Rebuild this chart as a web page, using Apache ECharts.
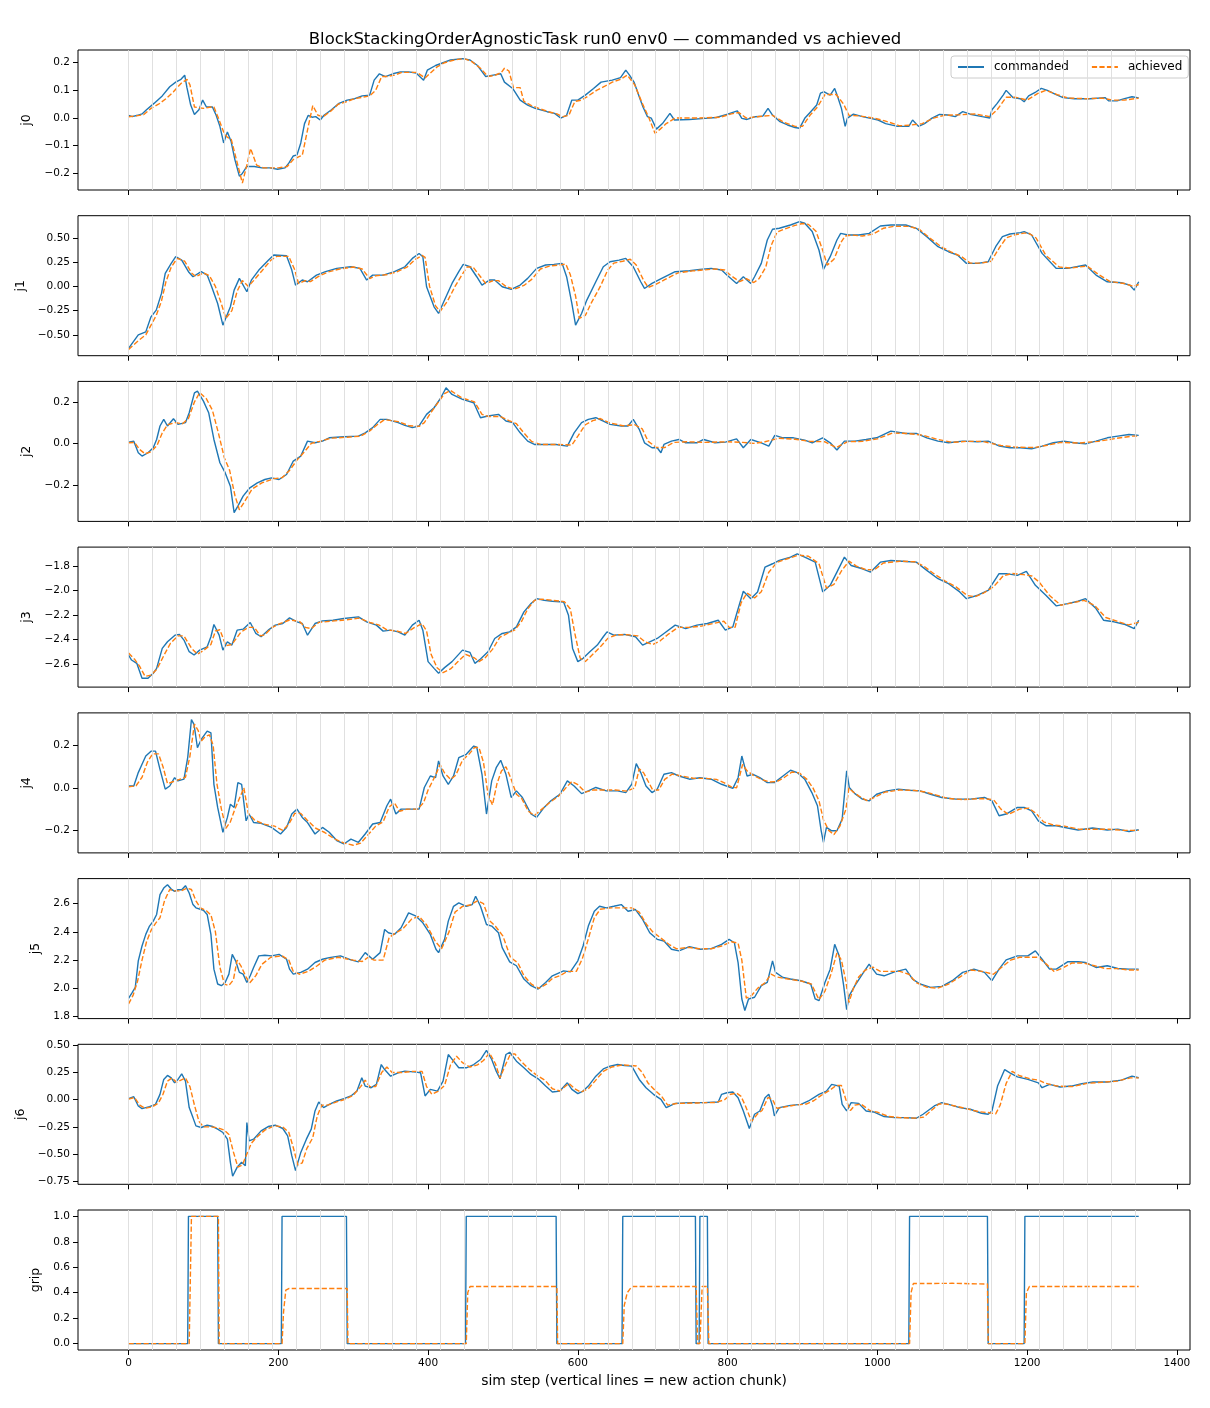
<!DOCTYPE html>
<html>
<head>
<meta charset="utf-8">
<script src="https://cdn.jsdelivr.net/npm/echarts@6/dist/echarts.min.js"></script>
<style>
html,body{margin:0;padding:0;background:#fff;}
#chart{width:1210px;height:1408px;}
</style>
</head>
<body>
<div id="chart"></div>
<script>
// ---------------- DATA ----------------
const titleText = 'BlockStackingOrderAgnosticTask run0 env0 \u2014 commanded vs achieved';
const xLabelText = 'sim step (vertical lines = new action chunk)';
const panelNames = ['j0','j1','j2','j3','j4','j5','j6','grip'];
const xTicks = [0,200,400,600,800,1000,1200,1400];
const chunkStarts = [0,32,64,96,128,160,192,224,256,288,320,352,384,416,448,480,512,544,576,608,640,672,704,736,768,800,832,864,896,928,960,992,1024,1056,1088,1120,1152,1184,1216,1248,1280,1312,1344];

const j0Ticks = [-0.2,-0.1,0,0.1,0.2];
const j1Ticks = [-0.5,-0.25,0,0.25,0.5];
const j2Ticks = [-0.2,0,0.2];
const j3Ticks = [-2.6,-2.4,-2.2,-2.0,-1.8];
const j4Ticks = [-0.2,0,0.2];
const j5Ticks = [1.8,2.0,2.2,2.4,2.6];
const j6Ticks = [-0.75,-0.5,-0.25,0,0.25,0.5];
const gripTicks = [0,0.2,0.4,0.6,0.8,1.0];

const j0Commanded = [[0,0.01],[5,0.005],[12,0.01],[18,0.015],[24,0.03],[34,0.053],[45,0.08],[55,0.113],[63,0.13],[70,0.14],[75,0.155],[78,0.11],[83,0.047],[88,0.013],[94,0.03],[99,0.065],[104,0.04],[112,0.04],[117,0.01],[122,-0.03],[127,-0.09],[132,-0.05],[137,-0.085],[142,-0.15],[148,-0.21],[152,-0.2],[158,-0.175],[168,-0.175],[178,-0.18],[189,-0.18],[199,-0.185],[209,-0.18],[214,-0.163],[220,-0.137],[225,-0.133],[230,-0.09],[235,-0.02],[240,0.01],[245,0.003],[250,0.005],[256,-0.007],[261,0.01],[271,0.03],[281,0.053],[292,0.065],[302,0.07],[312,0.08],[322,0.083],[328,0.137],[335,0.16],[343,0.15],[353,0.16],[363,0.167],[374,0.167],[384,0.163],[394,0.137],[399,0.173],[410,0.19],[420,0.2],[430,0.21],[446,0.215],[456,0.21],[466,0.19],[477,0.15],[487,0.155],[497,0.16],[502,0.13],[513,0.107],[523,0.065],[533,0.047],[543,0.035],[559,0.023],[569,0.017],[577,0.0],[585,0.01],[592,0.065],[600,0.065],[610,0.083],[621,0.107],[631,0.13],[646,0.137],[657,0.146],[664,0.173],[669,0.155],[675,0.13],[682,0.077],[687,0.04],[693,0.005],[698,0.0],[705,-0.04],[713,-0.02],[723,0.017],[729,-0.007],[749,-0.005],[770,-0.001],[785,0.002],[800,0.014],[813,0.026],[819,-0.001],[826,-0.005],[837,0.005],[847,0.007],[854,0.035],[860,0.011],[870,-0.013],[880,-0.025],[890,-0.034],[896,-0.037],[903,-0.001],[911,0.023],[919,0.047],[924,0.09],[929,0.095],[937,0.083],[943,0.107],[947,0.077],[952,0.035],[957,-0.03],[960,0.0],[968,0.014],[980,0.005],[991,-0.001],[1001,-0.007],[1011,-0.02],[1027,-0.03],[1042,-0.03],[1047,-0.007],[1055,-0.03],[1063,-0.02],[1073,0.0],[1083,0.013],[1094,0.011],[1104,0.005],[1114,0.023],[1124,0.014],[1140,0.005],[1150,0.0],[1153,0.03],[1160,0.053],[1168,0.083],[1172,0.1],[1181,0.074],[1191,0.07],[1196,0.059],[1202,0.08],[1212,0.095],[1219,0.107],[1227,0.1],[1238,0.086],[1248,0.074],[1263,0.07],[1284,0.07],[1304,0.074],[1309,0.062],[1320,0.062],[1330,0.07],[1340,0.077],[1349,0.073]];
const j0Achieved = [[0,0.005],[10,0.008],[20,0.012],[30,0.035],[40,0.05],[50,0.07],[60,0.095],[70,0.125],[78,0.14],[82,0.12],[88,0.04],[100,0.035],[110,0.04],[114,0.04],[120,0.0],[127,-0.05],[132,-0.07],[137,-0.075],[144,-0.15],[152,-0.235],[158,-0.17],[163,-0.11],[171,-0.17],[180,-0.18],[200,-0.18],[212,-0.175],[220,-0.15],[227,-0.14],[232,-0.135],[240,-0.03],[246,0.045],[253,0.01],[260,0.005],[270,0.025],[280,0.05],[292,0.06],[302,0.07],[312,0.075],[322,0.08],[330,0.1],[338,0.15],[345,0.15],[355,0.155],[365,0.165],[385,0.165],[396,0.145],[402,0.16],[412,0.185],[422,0.2],[435,0.21],[448,0.215],[458,0.205],[470,0.18],[480,0.15],[490,0.155],[498,0.165],[502,0.18],[508,0.17],[514,0.11],[523,0.11],[528,0.06],[538,0.045],[548,0.035],[562,0.022],[572,0.015],[580,0.005],[588,0.01],[596,0.06],[605,0.065],[614,0.08],[625,0.1],[636,0.115],[646,0.13],[657,0.14],[666,0.155],[676,0.12],[685,0.06],[695,0.0],[703,-0.055],[710,-0.04],[718,-0.02],[730,0.0],[760,0.0],[790,0.003],[805,0.015],[815,0.02],[825,0.0],[840,0.005],[860,0.01],[875,-0.015],[890,-0.03],[900,-0.03],[910,0.01],[920,0.04],[930,0.085],[945,0.085],[955,0.05],[962,0.01],[975,0.008],[995,0.0],[1010,-0.01],[1030,-0.028],[1045,-0.025],[1060,-0.02],[1075,0.0],[1090,0.01],[1110,0.012],[1130,0.015],[1150,0.005],[1160,0.03],[1172,0.075],[1185,0.075],[1200,0.065],[1215,0.09],[1225,0.1],[1240,0.085],[1255,0.072],[1280,0.07],[1300,0.072],[1315,0.065],[1330,0.065],[1349,0.072]];

const j1Commanded = [[0,-0.64],[13,-0.5],[23,-0.469],[30,-0.314],[37,-0.245],[44,-0.072],[49,0.134],[57,0.238],[63,0.307],[71,0.272],[80,0.152],[86,0.1],[97,0.152],[105,0.117],[111,-0.003],[119,-0.176],[126,-0.4],[136,-0.21],[141,-0.038],[148,0.083],[158,-0.055],[164,0.065],[174,0.169],[187,0.272],[194,0.324],[211,0.317],[218,0.169],[223,0.014],[232,0.066],[239,0.048],[251,0.117],[263,0.152],[278,0.186],[297,0.203],[309,0.186],[318,0.066],[326,0.117],[340,0.117],[355,0.152],[369,0.203],[379,0.289],[388,0.34],[393,0.307],[398,-0.003],[408,-0.21],[414,-0.279],[422,-0.141],[432,0.031],[441,0.152],[447,0.228],[456,0.203],[465,0.1],[472,0.014],[482,0.066],[489,0.066],[499,-0.003],[511,-0.031],[523,0.014],[533,0.083],[545,0.186],[557,0.221],[568,0.228],[579,0.238],[585,0.1],[592,-0.176],[597,-0.4],[605,-0.279],[612,-0.141],[624,0.048],[634,0.203],[643,0.255],[655,0.272],[664,0.289],[674,0.203],[684,0.048],[689,-0.021],[699,0.031],[712,0.083],[730,0.152],[749,0.162],[763,0.176],[778,0.186],[792,0.169],[799,0.117],[812,0.031],[821,0.1],[831,0.031],[836,0.1],[845,0.238],[853,0.479],[860,0.59],[869,0.6],[884,0.634],[896,0.669],[903,0.652],[913,0.566],[922,0.376],[928,0.176],[937,0.307],[946,0.479],[951,0.548],[961,0.531],[975,0.531],[989,0.548],[1004,0.624],[1018,0.634],[1038,0.634],[1052,0.6],[1066,0.514],[1081,0.41],[1095,0.358],[1107,0.324],[1119,0.238],[1134,0.238],[1148,0.255],[1158,0.41],[1167,0.514],[1177,0.541],[1191,0.555],[1196,0.566],[1206,0.531],[1220,0.341],[1239,0.186],[1254,0.186],[1278,0.221],[1292,0.117],[1307,0.048],[1326,0.038],[1337,0.014],[1343,-0.038],[1349,0.048]];
const j1Achieved = [[0,-0.65],[13,-0.56],[23,-0.5],[30,-0.4],[37,-0.3],[44,-0.15],[50,0.05],[57,0.2],[65,0.29],[75,0.26],[84,0.14],[90,0.1],[100,0.14],[108,0.11],[116,0.0],[124,-0.18],[130,-0.33],[138,-0.25],[145,-0.05],[152,0.06],[160,0.0],[167,0.06],[178,0.16],[190,0.27],[198,0.31],[214,0.31],[222,0.17],[227,0.03],[236,0.06],[243,0.05],[255,0.11],[267,0.15],[282,0.18],[300,0.2],[312,0.18],[322,0.08],[330,0.11],[344,0.12],[358,0.15],[372,0.2],[383,0.28],[392,0.32],[396,0.3],[402,0.0],[410,-0.2],[416,-0.26],[426,-0.15],[436,0.0],[446,0.13],[452,0.2],[460,0.2],[470,0.1],[477,0.03],[487,0.06],[494,0.06],[504,0.0],[515,-0.03],[528,0.01],[538,0.07],[550,0.18],[562,0.21],[574,0.22],[584,0.23],[590,0.12],[597,-0.1],[602,-0.33],[610,-0.3],[618,-0.17],[630,0.0],[640,0.17],[648,0.24],[660,0.26],[670,0.28],[678,0.22],[688,0.06],[694,-0.01],[704,0.02],[716,0.07],[734,0.14],[753,0.16],[768,0.17],[782,0.18],[796,0.17],[803,0.12],[816,0.05],[825,0.08],[835,0.04],[842,0.08],[851,0.2],[858,0.42],[866,0.56],[875,0.59],[890,0.63],[900,0.65],[908,0.64],[918,0.57],[928,0.35],[933,0.22],[942,0.28],[951,0.45],[957,0.52],[966,0.53],[980,0.52],[994,0.54],[1008,0.6],[1022,0.62],[1042,0.62],[1056,0.59],[1070,0.5],[1085,0.41],[1100,0.35],[1112,0.31],[1124,0.24],[1138,0.24],[1152,0.26],[1163,0.4],[1172,0.5],[1182,0.53],[1196,0.55],[1202,0.55],[1212,0.5],[1225,0.32],[1243,0.2],[1258,0.19],[1280,0.21],[1296,0.12],[1311,0.05],[1330,0.03],[1342,0.0],[1349,0.02]];

const j2Commanded = [[0,0.006],[7,0.011],[13,-0.045],[18,-0.061],[26,-0.045],[33,-0.021],[37.5,0.019],[42,0.084],[47,0.116],[52,0.084],[60,0.119],[66,0.092],[76,0.1],[81,0.148],[88,0.244],[92,0.252],[100,0.204],[107,0.148],[114,0.019],[122,-0.093],[129,-0.141],[136,-0.206],[141,-0.334],[146,-0.302],[153,-0.254],[162,-0.214],[172,-0.19],[182,-0.174],[191,-0.166],[201,-0.174],[211,-0.15],[220,-0.085],[230,-0.061],[239,0.011],[249,0.003],[259,0.011],[268,0.027],[288,0.032],[307,0.035],[316,0.051],[326,0.076],[336,0.116],[345,0.116],[360,0.1],[369,0.087],[379,0.076],[388,0.084],[398,0.14],[408,0.172],[417,0.22],[424,0.268],[432,0.236],[446,0.212],[461,0.196],[470,0.124],[480,0.132],[494,0.14],[504,0.108],[513,0.1],[523,0.051],[533,0.011],[542,-0.005],[557,-0.005],[571,-0.005],[586,-0.013],[595,0.051],[605,0.1],[614,0.116],[624,0.124],[634,0.108],[643,0.092],[658,0.084],[667,0.084],[674,0.116],[682,0.068],[689,0.003],[699,-0.021],[706,-0.021],[711,-0.045],[715,-0.005],[725,0.011],[735,0.019],[744,0.003],[759,0.003],[768,0.019],[783,0.003],[797,0.006],[812,0.022],[821,-0.021],[831,0.019],[845,0.003],[855,-0.013],[863,0.039],[874,0.027],[888,0.027],[903,0.016],[913,0.003],[927,0.027],[937,0.003],[946,-0.032],[956,0.011],[970,0.011],[985,0.019],[999,0.027],[1018,0.059],[1038,0.048],[1052,0.048],[1066,0.027],[1081,0.011],[1095,0.003],[1114,0.011],[1134,0.008],[1148,0.011],[1163,-0.013],[1177,-0.021],[1191,-0.021],[1206,-0.026],[1220,-0.013],[1235,0.003],[1249,0.011],[1263,0.003],[1278,-0.002],[1292,0.011],[1307,0.027],[1321,0.035],[1336,0.043],[1349,0.039]];
const j2Achieved = [[0,0.003],[8,0.005],[15,-0.03],[22,-0.05],[30,-0.04],[38,-0.01],[45,0.05],[52,0.09],[62,0.1],[72,0.095],[80,0.12],[88,0.2],[95,0.245],[104,0.215],[112,0.16],[120,0.05],[128,-0.07],[135,-0.13],[142,-0.25],[148,-0.32],[155,-0.28],[165,-0.22],[178,-0.19],[194,-0.17],[205,-0.165],[215,-0.13],[225,-0.08],[235,-0.04],[244,0.0],[255,0.01],[270,0.025],[292,0.03],[310,0.035],[322,0.06],[332,0.09],[342,0.115],[360,0.105],[375,0.085],[388,0.082],[395,0.1],[404,0.15],[414,0.2],[422,0.24],[430,0.255],[445,0.22],[462,0.2],[472,0.14],[480,0.13],[496,0.13],[508,0.11],[518,0.095],[528,0.05],[538,0.01],[550,-0.005],[575,-0.005],[592,-0.008],[600,0.035],[610,0.09],[620,0.11],[630,0.12],[642,0.1],[660,0.085],[676,0.09],[686,0.07],[694,0.01],[705,-0.02],[716,-0.02],[728,0.005],[745,0.008],[770,0.005],[800,0.008],[820,0.005],[835,0.0],[850,0.008],[868,0.025],[890,0.02],[910,0.01],[930,0.008],[945,-0.02],[960,0.008],[980,0.01],[1000,0.022],[1020,0.05],[1040,0.048],[1060,0.04],[1080,0.02],[1100,0.005],[1120,0.01],[1140,0.01],[1165,-0.01],[1185,-0.018],[1210,-0.02],[1225,-0.01],[1245,0.005],[1270,0.002],[1295,0.01],[1320,0.025],[1340,0.035],[1349,0.035]];

const j3Commanded = [[0,-2.526],[4,-2.567],[11,-2.594],[18,-2.716],[26,-2.716],[33,-2.675],[37.5,-2.635],[45,-2.472],[52,-2.418],[62,-2.364],[68,-2.358],[74,-2.404],[81,-2.499],[87.5,-2.526],[95,-2.486],[105,-2.459],[110,-2.377],[114,-2.277],[121,-2.364],[126,-2.486],[132,-2.418],[138,-2.445],[145,-2.323],[153,-2.315],[162.5,-2.261],[170,-2.35],[177,-2.377],[186.5,-2.323],[196,-2.282],[206,-2.269],[215,-2.223],[225,-2.255],[232,-2.269],[239,-2.364],[249,-2.269],[259,-2.247],[273,-2.242],[287.5,-2.228],[307,-2.215],[318,-2.255],[331,-2.282],[340,-2.331],[350,-2.323],[360,-2.337],[369,-2.364],[379,-2.282],[388,-2.242],[393,-2.323],[400,-2.58],[408,-2.635],[414,-2.675],[422,-2.629],[432,-2.58],[446,-2.486],[456,-2.505],[462.5,-2.594],[470,-2.559],[480,-2.499],[489,-2.391],[499,-2.35],[509,-2.337],[518,-2.296],[528,-2.174],[537.5,-2.106],[545,-2.066],[555,-2.079],[566,-2.087],[581,-2.093],[587.5,-2.201],[593,-2.472],[600,-2.58],[607,-2.553],[616,-2.499],[626,-2.445],[634,-2.377],[639,-2.337],[648,-2.364],[662.5,-2.358],[677,-2.377],[686.5,-2.445],[696,-2.418],[706,-2.391],[715,-2.35],[730,-2.282],[744,-2.31],[759,-2.282],[773,-2.269],[787.5,-2.242],[797,-2.323],[807,-2.296],[811.5,-2.201],[821,-2.006],[831,-2.066],[840,-2.011],[850,-1.808],[860,-1.781],[869,-1.754],[884,-1.727],[893,-1.7],[903,-1.727],[917,-1.768],[927,-2.011],[937,-1.957],[946,-1.849],[956,-1.727],[965,-1.795],[980,-1.822],[991,-1.849],[1004,-1.768],[1018,-1.754],[1038,-1.762],[1052,-1.768],[1066,-1.835],[1081,-1.903],[1095,-1.944],[1110,-2.011],[1119,-2.066],[1134,-2.038],[1148,-1.998],[1162.5,-1.862],[1172,-1.862],[1187,-1.876],[1199,-1.843],[1211,-1.957],[1225,-2.038],[1239,-2.125],[1254,-2.106],[1268,-2.087],[1278,-2.066],[1292,-2.147],[1302,-2.242],[1316,-2.255],[1331,-2.277],[1343,-2.31],[1349,-2.242]];
const j3Achieved = [[0,-2.51],[8,-2.56],[15,-2.62],[22,-2.7],[30,-2.69],[38,-2.64],[48,-2.52],[56,-2.43],[66,-2.37],[74,-2.37],[84,-2.47],[92,-2.52],[100,-2.49],[110,-2.44],[116,-2.33],[122,-2.32],[130,-2.45],[138,-2.44],[150,-2.34],[160,-2.3],[168,-2.3],[176,-2.37],[182,-2.36],[192,-2.3],[202,-2.27],[215,-2.24],[228,-2.25],[236,-2.3],[244,-2.31],[254,-2.26],[270,-2.25],[290,-2.24],[308,-2.225],[322,-2.26],[334,-2.28],[345,-2.32],[358,-2.33],[370,-2.35],[382,-2.3],[392,-2.27],[398,-2.33],[404,-2.52],[412,-2.63],[420,-2.67],[430,-2.64],[440,-2.58],[450,-2.52],[462,-2.55],[468,-2.58],[476,-2.55],[486,-2.48],[496,-2.38],[506,-2.35],[516,-2.32],[525,-2.25],[533,-2.15],[542,-2.08],[552,-2.07],[566,-2.08],[582,-2.09],[590,-2.15],[596,-2.35],[603,-2.55],[610,-2.58],[620,-2.52],[630,-2.46],[640,-2.39],[652,-2.36],[665,-2.36],[680,-2.37],[690,-2.42],[700,-2.44],[710,-2.41],[720,-2.36],[734,-2.3],[750,-2.3],[765,-2.29],[780,-2.27],[795,-2.25],[802,-2.3],[810,-2.3],[818,-2.1],[826,-2.02],[836,-2.06],[845,-2.01],[855,-1.85],[866,-1.77],[880,-1.74],[895,-1.71],[908,-1.72],[922,-1.78],[932,-1.98],[942,-1.95],[952,-1.84],[962,-1.76],[972,-1.8],[985,-1.83],[996,-1.83],[1008,-1.775],[1030,-1.76],[1050,-1.765],[1062,-1.8],[1075,-1.86],[1090,-1.92],[1105,-1.97],[1120,-2.04],[1130,-2.05],[1142,-2.02],[1155,-1.97],[1168,-1.88],[1180,-1.86],[1195,-1.87],[1206,-1.88],[1216,-1.93],[1230,-2.04],[1245,-2.12],[1260,-2.1],[1276,-2.08],[1290,-2.12],[1305,-2.22],[1320,-2.25],[1335,-2.28],[1349,-2.26]];

const j4Commanded = [[0,0.009],[7,0.009],[13,0.072],[18,0.111],[23,0.15],[30,0.173],[36,0.173],[42,0.087],[49,-0.006],[55,0.009],[61.5,0.048],[66,0.033],[74,0.041],[79,0.142],[84,0.322],[87.5,0.298],[92,0.189],[97,0.228],[105,0.267],[110,0.259],[114,0.017],[119,-0.092],[126,-0.209],[132,-0.139],[136,-0.077],[141,-0.092],[146,0.025],[151,0.017],[157,-0.155],[161,-0.123],[167,-0.163],[177,-0.167],[191,-0.186],[203,-0.217],[211,-0.186],[218,-0.123],[225,-0.1],[232,-0.139],[239,-0.163],[249,-0.217],[259,-0.186],[268,-0.209],[278,-0.248],[287.5,-0.264],[297,-0.241],[307,-0.256],[316,-0.217],[326,-0.17],[336,-0.163],[345,-0.084],[350,-0.053],[357,-0.123],[364,-0.1],[379,-0.1],[388,-0.1],[395,0.002],[403,0.056],[410,0.048],[414,0.127],[420,0.056],[427,0.017],[434,0.056],[441,0.142],[451,0.158],[461,0.197],[465,0.192],[472,0.064],[478,-0.123],[485,0.033],[491,0.095],[497,0.13],[504,0.064],[511,-0.045],[518,-0.014],[526,-0.045],[537.5,-0.123],[545,-0.139],[555,-0.092],[564,-0.061],[576,-0.03],[586,0.033],[595,0.009],[605,-0.027],[614,-0.014],[624,0.002],[638,-0.014],[653,-0.014],[664,-0.022],[672,0.017],[678,0.114],[684,0.072],[691,0.009],[699,-0.022],[706,-0.006],[715,0.064],[725,0.072],[735,0.056],[749,0.041],[763,0.048],[778,0.041],[792,0.017],[807,-0.002],[814,0.048],[819,0.15],[826,0.056],[834,0.064],[843,0.048],[853,0.025],[862.5,0.025],[874,0.056],[884,0.083],[893,0.072],[903,0.041],[912.5,-0.022],[920,-0.084],[925,-0.202],[928,-0.256],[932,-0.186],[939,-0.202],[946,-0.202],[953,-0.147],[959,0.08],[962.5,0.002],[970,-0.027],[980,-0.053],[989,-0.061],[999,-0.03],[1013,-0.014],[1028,-0.006],[1042,-0.011],[1057,-0.014],[1071,-0.03],[1086,-0.045],[1105,-0.053],[1124,-0.053],[1143,-0.045],[1153,-0.061],[1162.5,-0.131],[1172,-0.123],[1187,-0.092],[1196,-0.092],[1206,-0.108],[1215,-0.155],[1225,-0.178],[1239,-0.178],[1254,-0.189],[1268,-0.198],[1287.5,-0.189],[1307,-0.198],[1321,-0.194],[1336,-0.205],[1349,-0.197]];
const j4Achieved = [[0,0.005],[10,0.01],[18,0.05],[25,0.12],[32,0.16],[40,0.16],[46,0.1],[52,0.02],[60,0.03],[68,0.04],[76,0.05],[82,0.15],[88,0.3],[93,0.27],[97,0.22],[102,0.24],[108,0.25],[113,0.2],[118,0.02],[124,-0.1],[130,-0.19],[136,-0.16],[142,-0.1],[148,-0.05],[154,0.0],[160,-0.12],[168,-0.15],[180,-0.17],[195,-0.18],[206,-0.2],[214,-0.17],[222,-0.12],[230,-0.12],[238,-0.15],[250,-0.19],[262,-0.21],[275,-0.24],[288,-0.26],[300,-0.27],[310,-0.26],[320,-0.22],[330,-0.18],[340,-0.16],[348,-0.09],[355,-0.07],[362,-0.11],[372,-0.1],[386,-0.1],[394,-0.07],[400,-0.01],[410,0.06],[416,0.11],[422,0.07],[430,0.04],[437,0.06],[446,0.13],[455,0.16],[462,0.19],[468,0.19],[474,0.12],[480,-0.03],[486,-0.08],[492,0.02],[498,0.08],[504,0.1],[510,0.05],[518,-0.03],[525,-0.05],[534,-0.11],[542,-0.13],[552,-0.1],[562,-0.07],[574,-0.04],[584,0.0],[592,0.03],[600,0.015],[610,-0.02],[620,-0.01],[630,-0.01],[650,-0.01],[666,-0.015],[676,0.0],[682,0.09],[688,0.07],[694,0.03],[700,-0.01],[708,-0.01],[716,0.04],[726,0.065],[740,0.055],[755,0.045],[770,0.045],[785,0.04],[795,0.025],[805,0.005],[812,0.0],[820,0.11],[826,0.08],[834,0.06],[845,0.04],[856,0.028],[866,0.03],[876,0.05],[886,0.075],[896,0.07],[906,0.04],[914,0.0],[922,-0.06],[928,-0.15],[935,-0.2],[942,-0.22],[950,-0.18],[958,-0.1],[962,0.0],[968,-0.02],[976,-0.04],[986,-0.06],[996,-0.045],[1010,-0.02],[1030,-0.01],[1050,-0.012],[1065,-0.02],[1080,-0.035],[1095,-0.05],[1115,-0.055],[1140,-0.05],[1155,-0.055],[1165,-0.1],[1175,-0.125],[1190,-0.1],[1202,-0.095],[1212,-0.12],[1222,-0.16],[1235,-0.175],[1250,-0.18],[1270,-0.195],[1290,-0.195],[1310,-0.195],[1330,-0.2],[1349,-0.2]];

const j5Commanded = [[0,1.93],[5,1.972],[9,2.007],[13,2.195],[18,2.3],[23,2.382],[28,2.441],[33,2.476],[37.5,2.523],[42,2.663],[47,2.71],[52,2.734],[57,2.703],[61.5,2.687],[66,2.698],[71,2.698],[76,2.727],[81,2.675],[86,2.593],[90,2.57],[100,2.553],[105,2.523],[110,2.382],[114,2.136],[119,2.031],[124,2.019],[129,2.042],[134,2.101],[138.5,2.241],[143,2.195],[148,2.113],[153,2.101],[158,2.042],[162.5,2.089],[167,2.148],[174,2.23],[182,2.234],[191,2.23],[201,2.241],[211,2.206],[215,2.136],[220,2.101],[230,2.113],[239,2.136],[249,2.183],[259,2.206],[268,2.218],[283,2.23],[297,2.202],[307,2.188],[316,2.253],[326,2.206],[336,2.253],[342,2.417],[347,2.394],[355,2.382],[364,2.429],[374,2.534],[384,2.511],[393,2.464],[403,2.382],[410.5,2.277],[414,2.253],[422,2.347],[427,2.476],[434,2.581],[441,2.605],[451,2.581],[459,2.593],[463.5,2.652],[470,2.581],[478,2.452],[485,2.441],[494,2.394],[499,2.288],[509,2.188],[518,2.16],[528,2.066],[537.5,2.019],[547,1.995],[557,2.042],[566,2.089],[581,2.124],[590,2.117],[600,2.195],[607,2.3],[614,2.441],[622,2.546],[629,2.581],[638,2.57],[648,2.581],[658,2.593],[667,2.546],[677,2.558],[686.5,2.488],[696,2.394],[706,2.347],[715,2.335],[725,2.277],[735,2.265],[749,2.295],[763,2.277],[778,2.281],[792,2.312],[802,2.347],[809,2.323],[814,2.183],[819,1.925],[823,1.843],[828,1.925],[836,1.937],[845,2.019],[853,2.042],[860,2.195],[864,2.113],[874,2.077],[884,2.066],[898,2.054],[911,2.031],[917,1.925],[922,1.913],[930,2.042],[937,2.136],[943,2.312],[949,2.23],[955,2.019],[959,1.85],[962.5,1.949],[970,2.019],[980,2.101],[989,2.171],[999,2.101],[1009,2.089],[1023,2.117],[1038,2.136],[1047,2.066],[1057,2.031],[1071,2.007],[1086,2.014],[1100,2.054],[1114,2.113],[1129,2.136],[1143,2.113],[1153,2.054],[1162.5,2.136],[1172,2.202],[1187,2.23],[1201,2.23],[1211,2.265],[1220,2.206],[1230,2.136],[1239,2.136],[1254,2.188],[1268,2.188],[1278,2.183],[1292,2.148],[1307,2.16],[1321,2.141],[1336,2.136],[1349,2.136]];
const j5Achieved = [[0,1.89],[6,1.95],[12,2.05],[18,2.2],[24,2.33],[30,2.41],[36,2.46],[42,2.5],[48,2.62],[55,2.7],[62,2.69],[70,2.69],[78,2.71],[84,2.7],[90,2.62],[96,2.57],[104,2.55],[110,2.52],[116,2.4],[122,2.15],[128,2.03],[134,2.02],[140,2.06],[145,2.2],[150,2.16],[157,2.08],[162,2.04],[170,2.09],[178,2.17],[190,2.22],[205,2.23],[214,2.2],[220,2.12],[228,2.1],[240,2.12],[252,2.16],[262,2.2],[280,2.22],[300,2.2],[312,2.19],[320,2.22],[328,2.2],[340,2.2],[348,2.36],[356,2.39],[366,2.42],[378,2.49],[388,2.51],[398,2.45],[410,2.33],[418,2.28],[428,2.4],[436,2.54],[446,2.58],[456,2.59],[466,2.62],[474,2.6],[482,2.48],[490,2.44],[500,2.37],[510,2.22],[520,2.18],[528,2.09],[538,2.03],[548,2.0],[558,2.03],[566,2.07],[576,2.09],[586,2.12],[598,2.12],[606,2.21],[614,2.35],[622,2.5],[630,2.56],[645,2.57],[660,2.57],[672,2.57],[682,2.54],[692,2.45],[700,2.4],[710,2.36],[722,2.31],[732,2.28],[748,2.29],[762,2.28],[778,2.28],[792,2.3],[805,2.33],[814,2.32],[819,2.2],[825,1.93],[832,1.95],[840,2.0],[850,2.04],[858,2.1],[866,2.08],[876,2.07],[888,2.06],[900,2.05],[912,2.03],[922,1.92],[930,1.98],[938,2.1],[946,2.25],[952,2.2],[958,2.05],[962,1.9],[968,2.0],[975,2.08],[984,2.13],[994,2.15],[1004,2.12],[1016,2.12],[1030,2.12],[1042,2.1],[1052,2.04],[1065,2.01],[1080,2.0],[1095,2.03],[1110,2.08],[1125,2.13],[1140,2.12],[1155,2.1],[1166,2.15],[1178,2.2],[1190,2.22],[1205,2.22],[1215,2.22],[1226,2.17],[1236,2.12],[1246,2.14],[1260,2.18],[1275,2.18],[1290,2.16],[1305,2.14],[1320,2.14],[1335,2.13],[1349,2.13]];

const j6Commanded = [[0,0.009],[7,0.027],[13,-0.058],[18,-0.082],[28,-0.064],[36,-0.043],[42,0.049],[47,0.186],[52,0.223],[57,0.201],[61.5,0.155],[66,0.186],[71,0.238],[76,0.171],[81,-0.073],[86,-0.165],[90,-0.241],[97,-0.256],[105,-0.235],[112.5,-0.247],[119,-0.271],[126,-0.302],[132,-0.363],[136,-0.576],[139,-0.704],[145,-0.622],[151,-0.576],[156,-0.607],[158,-0.21],[161,-0.378],[167,-0.363],[177,-0.287],[186.5,-0.247],[196,-0.235],[206,-0.265],[212.5,-0.332],[218,-0.515],[223,-0.652],[230,-0.485],[237.5,-0.363],[244,-0.271],[249,-0.104],[254,-0.021],[260.5,-0.073],[268,-0.043],[278,-0.012],[287.5,0.009],[297,0.034],[305,0.079],[311.5,0.201],[316,0.125],[324,0.11],[331,0.14],[337.5,0.323],[342,0.277],[350,0.216],[360,0.247],[369,0.262],[384,0.253],[390,0.247],[396,0.034],[403,0.095],[412.5,0.079],[420,0.171],[427,0.415],[434,0.354],[441,0.293],[451,0.293],[461,0.323],[470,0.369],[478,0.454],[485,0.369],[491,0.262],[496,0.192],[504,0.415],[509,0.436],[518,0.354],[528,0.293],[537.5,0.232],[547,0.192],[557,0.125],[566,0.07],[576,0.079],[586,0.155],[592,0.095],[600,0.055],[607,0.079],[614,0.125],[624,0.216],[634,0.283],[643,0.308],[653,0.323],[662.5,0.314],[672,0.308],[682,0.186],[691,0.11],[701,0.049],[711,0.003],[718,-0.073],[730,-0.034],[749,-0.027],[768,-0.027],[787.5,-0.021],[792,0.049],[799,0.064],[807,0.07],[814,0.018],[821,-0.104],[829,-0.265],[836,-0.134],[843,-0.104],[850,0.018],[855,0.049],[860,-0.058],[862.5,-0.149],[869,-0.073],[884,-0.052],[898,-0.043],[908,-0.012],[922,0.049],[932,0.079],[939,0.14],[949,0.125],[953,-0.043],[959,-0.104],[965,-0.027],[975,-0.034],[985,-0.104],[995,-0.113],[1009,-0.155],[1023,-0.165],[1038,-0.165],[1052,-0.171],[1061,-0.134],[1076,-0.058],[1086,-0.027],[1095,-0.043],[1110,-0.073],[1124,-0.088],[1139,-0.125],[1148,-0.134],[1153,-0.104],[1160.5,0.125],[1170,0.277],[1177,0.247],[1187,0.21],[1201,0.186],[1215,0.155],[1220,0.11],[1230,0.14],[1244,0.116],[1259,0.125],[1273,0.146],[1288,0.162],[1307,0.162],[1326,0.18],[1340,0.216],[1349,0.201]];
const j6Achieved = [[0,0.005],[8,0.02],[15,-0.05],[22,-0.08],[32,-0.065],[40,-0.03],[46,0.05],[52,0.17],[58,0.2],[64,0.16],[70,0.18],[76,0.2],[82,0.12],[88,-0.05],[94,-0.2],[100,-0.25],[110,-0.25],[120,-0.26],[128,-0.28],[134,-0.32],[140,-0.48],[146,-0.62],[152,-0.6],[158,-0.5],[164,-0.4],[172,-0.34],[182,-0.28],[195,-0.24],[206,-0.25],[214,-0.3],[220,-0.44],[226,-0.6],[232,-0.58],[238,-0.45],[246,-0.35],[252,-0.15],[258,-0.05],[266,-0.05],[278,-0.02],[290,0.005],[300,0.04],[310,0.12],[316,0.18],[322,0.12],[330,0.12],[338,0.25],[345,0.3],[352,0.25],[365,0.25],[380,0.26],[392,0.26],[398,0.12],[405,0.05],[414,0.08],[422,0.13],[430,0.32],[438,0.4],[446,0.34],[456,0.3],[466,0.32],[474,0.36],[482,0.43],[490,0.33],[496,0.2],[502,0.3],[510,0.42],[516,0.42],[526,0.34],[535,0.28],[546,0.22],[556,0.18],[566,0.1],[576,0.08],[588,0.15],[596,0.1],[604,0.07],[614,0.1],[624,0.18],[634,0.26],[645,0.3],[660,0.32],[678,0.31],[686,0.25],[694,0.15],[704,0.08],[712,0.03],[720,-0.05],[732,-0.035],[760,-0.03],[785,-0.025],[796,0.0],[804,0.05],[812,0.06],[818,0.03],[824,-0.06],[832,-0.2],[840,-0.13],[846,-0.1],[854,0.02],[860,0.0],[866,-0.08],[874,-0.07],[890,-0.05],[905,-0.04],[915,-0.01],[925,0.04],[935,0.08],[945,0.13],[952,0.13],[958,0.0],[964,-0.1],[970,-0.05],[978,-0.04],[990,-0.1],[1000,-0.115],[1015,-0.155],[1030,-0.165],[1050,-0.17],[1062,-0.16],[1072,-0.1],[1082,-0.04],[1092,-0.04],[1105,-0.06],[1120,-0.085],[1135,-0.11],[1150,-0.12],[1158,-0.13],[1164,-0.05],[1172,0.15],[1180,0.26],[1190,0.22],[1205,0.19],[1215,0.18],[1225,0.15],[1240,0.125],[1260,0.12],[1280,0.15],[1300,0.16],[1320,0.17],[1338,0.2],[1349,0.2]];

const gripCommanded = [[0,0],[79,0],[80,1],[119,1],[120,0],[204,0],[205,1],[291,1],[292,0],[450,0],[451,1],[571,1],[572,0],[659,0],[660,1],[757,1],[758,0],[762,0],[763,1],[773,1],[774,0],[1042,0],[1043,1],[1147,1],[1148,0],[1196,0],[1197,1],[1349,1]];
const gripAchieved = [[0,0],[81,0],[84,1.0],[120,1.0],[121,0],[205,0],[207,0.25],[210,0.42],[214,0.433],[292,0.433],[293,0],[451,0],[453,0.4],[456,0.449],[572,0.449],[573,0],[660,0],[662,0.3],[666,0.4],[672,0.449],[758,0.449],[760,0],[763,0],[766,0.449],[773,0.449],[775,0],[1043,0],[1045,0.4],[1048,0.472],[1100,0.474],[1147,0.468],[1148,0],[1197,0],[1199,0.4],[1203,0.449],[1349,0.449]];

// ---------------- LAYOUT / STYLE ----------------
const commandedData = [j0Commanded,j1Commanded,j2Commanded,j3Commanded,j4Commanded,j5Commanded,j6Commanded,gripCommanded];
const achievedData = [j0Achieved,j1Achieved,j2Achieved,j3Achieved,j4Achieved,j5Achieved,j6Achieved,gripAchieved];
const tickSets = [j0Ticks,j1Ticks,j2Ticks,j3Ticks,j4Ticks,j5Ticks,j6Ticks,gripTicks];
const decimals = [1,2,1,1,1,1,2,1];
const yMins = [-0.26,-0.715,-0.376,-2.788,-0.306,1.786,-0.778,-0.05];
const yMaxs = [0.246,0.73,0.299,-1.645,0.353,2.777,0.509,1.05];
const nameGaps = [44,51,44,44,44,35,51,35];
const tops = [50,215.7,381.4,547.1,712.9,878.6,1044.3,1210];
const FONT = 'DejaVu Sans';
const BLUE = '#1f77b4', ORANGE = '#ff7f0e';

function fmt(v,d){ return v.toFixed(d).replace('-', '\u2212'); }

const grids=[], xAxes=[], yAxes=[], series=[];
for (let i=0;i<8;i++){
  grids.push({left:78, width:1112, top:tops[i], height:140, show:true, borderColor:'#000', borderWidth:1, backgroundColor:'transparent'});
  const last = (i===7);
  xAxes.push({
    type:'value', gridIndex:i, min:-67.5, max:1417.5, position:'bottom',
    axisLine:{show:false, onZero:false},
    axisTick:{show:true, length:5, lineStyle:{color:'#000', width:1}, customValues:xTicks},
    axisLabel:{show:last, customValues:xTicks, fontSize:10.5, fontFamily:FONT, color:'#000', margin:8, formatter:(v)=>String(v)},
    splitLine:{show:false},
    name: last ? xLabelText : '',
    nameLocation:'middle', nameGap:24,
    nameTextStyle:{fontSize:13.9, fontFamily:FONT, color:'#000'}
  });
  const d = decimals[i];
  yAxes.push({
    type:'value', gridIndex:i, min:yMins[i], max:yMaxs[i], position:'left',
    axisLine:{show:false, onZero:false},
    axisTick:{show:true, length:5, lineStyle:{color:'#000', width:1}, customValues:tickSets[i]},
    axisLabel:{show:true, customValues:tickSets[i], fontSize:10.5, fontFamily:FONT, color:'#000', margin:8, formatter:(v)=>fmt(v,d)},
    splitLine:{show:false},
    name: panelNames[i], nameLocation:'middle', nameRotate:90, nameGap:nameGaps[i],
    nameTextStyle:{fontSize:12.5, fontFamily:FONT, color:'#000'}
  });
  series.push({
    type:'line', xAxisIndex:i, yAxisIndex:i, data:[], silent:true, z:1,
    markLine:{silent:true, symbol:['none','none'], animation:false, label:{show:false},
      lineStyle:{color:'#dcdcdc', width:0.9, type:'solid'},
      emphasis:{disabled:true},
      data: chunkStarts.map(x=>({xAxis:x}))}
  });
  series.push({
    name:'commanded', type:'line', xAxisIndex:i, yAxisIndex:i, data:commandedData[i],
    symbol:'none', showSymbol:false, z:3, animation:false,
    lineStyle:{color:BLUE, width:1.4}, itemStyle:{color:BLUE}
  });
  series.push({
    name:'achieved', type:'line', xAxisIndex:i, yAxisIndex:i, data:achievedData[i],
    symbol:'none', showSymbol:false, z:4, animation:false,
    lineStyle:{color:ORANGE, width:1.4, type:[5.2,2.3]}, itemStyle:{color:ORANGE}
  });
}

const chart = echarts.init(document.getElementById('chart'));
chart.setOption({
  animation:false,
  backgroundColor:'#fff',
  title:{text:titleText, left:'center', top:26, textStyle:{fontSize:16.5, fontWeight:'normal', fontFamily:FONT, color:'#000'}},
  legend:{
    data:['commanded','achieved'], left:951, top:56, orient:'horizontal',
    itemWidth:26, itemHeight:10, itemGap:22,
    padding:[5,6,5,6], borderColor:'#cccccc', borderWidth:1, borderRadius:3,
    backgroundColor:'rgba(255,255,255,0.85)',
    itemStyle:{opacity:0},
    textStyle:{fontSize:12, fontFamily:FONT, color:'#000', padding:[0,0,0,5]}
  },
  grid:grids, xAxis:xAxes, yAxis:yAxes, series:series
});
</script>
</body>
</html>
